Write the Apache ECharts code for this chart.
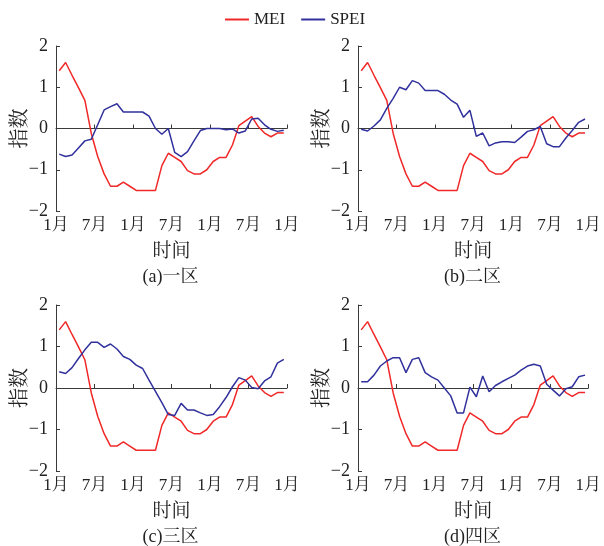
<!DOCTYPE html>
<html>
<head>
<meta charset="utf-8">
<script src="https://cdn.jsdelivr.net/npm/echarts@6/dist/echarts.min.js"></script>
<style>html,body{margin:0;padding:0;background:#fff;}#c{width:604px;height:546px;}</style>
</head>
<body>
<div id="c"></div>
<script>
// ---- data ----
const tickLabels = ['1月', '7月', '1月', '7月', '1月', '7月', '1月'];
const panelTitles = ['(a)一区', '(b)二区', '(c)三区', '(d)四区'];
const seriesNames = ['MEI', 'SPEI'];
const MEI = [1.4, 1.6, 1.29, 0.99, 0.68, -0.12, -0.68, -1.1, -1.4, -1.4, -1.3, -1.4,
  -1.5, -1.5, -1.5, -1.5, -0.9, -0.6, -0.7, -0.8, -1.02, -1.1, -1.1, -1.0,
  -0.8, -0.7, -0.7, -0.4, 0.07, 0.18, 0.29, 0.05, -0.11, -0.2, -0.11, -0.11];
const SPEI_1 = [-0.62, -0.68, -0.64, -0.47, -0.3, -0.26, 0.09, 0.45, 0.53, 0.6, 0.4, 0.4,
  0.4, 0.4, 0.3, 0.0, -0.14, 0.0, -0.58, -0.68, -0.56, -0.3, -0.05, 0.0,
  0.0, 0.0, -0.03, -0.01, -0.11, -0.06, 0.23, 0.25, 0.09, -0.02, -0.07, -0.04];
const SPEI_2 = [-0.02, -0.06, 0.06, 0.21, 0.49, 0.73, 1.0, 0.94, 1.16, 1.1, 0.92, 0.92,
  0.92, 0.83, 0.69, 0.59, 0.27, 0.44, -0.19, -0.11, -0.42, -0.35, -0.32, -0.32,
  -0.34, -0.21, -0.07, -0.03, 0.05, -0.37, -0.44, -0.44, -0.23, -0.05, 0.15, 0.23];
const SPEI_3 = [0.39, 0.35, 0.49, 0.71, 0.92, 1.1, 1.1, 0.98, 1.06, 0.94, 0.76, 0.69,
  0.55, 0.47, 0.19, -0.08, -0.35, -0.64, -0.66, -0.37, -0.53, -0.53, -0.6, -0.66,
  -0.64, -0.45, -0.23, 0.03, 0.25, 0.19, 0.01, -0.02, 0.17, 0.27, 0.6, 0.69];
const SPEI_4 = [0.15, 0.15, 0.31, 0.53, 0.65, 0.73, 0.73, 0.37, 0.69, 0.73, 0.37, 0.27,
  0.19, 0.0, -0.19, -0.6, -0.6, 0.02, -0.21, 0.29, -0.09, 0.06, 0.15, 0.23,
  0.31, 0.43, 0.53, 0.57, 0.53, 0.09, -0.05, -0.19, -0.02, 0.03, 0.27, 0.31];
const SPEI = [SPEI_1, SPEI_2, SPEI_3, SPEI_4];

// ---- layout / style ----
const FONT = "'Liberation Serif', 'Noto Serif CJK SC', 'Noto Sans CJK SC', serif";
const RED = '#f02828';
const BLUE = '#30319c';
const AXIS = '#3a3a3a';
const grids = [
  {left: 56, top: 46, width: 231, height: 165},
  {left: 358, top: 46, width: 231, height: 165},
  {left: 56, top: 305, width: 231, height: 166},
  {left: 358, top: 305, width: 231, height: 166}
];

const toPts = arr => arr.map((v, i) => [i + 0.5, v]);

const xAxes = [], yAxes = [], series = [], titles = [];
grids.forEach((g, k) => {
  xAxes.push({
    gridIndex: k, type: 'value', min: 0, max: 36, interval: 6,
    name: '时间', nameLocation: 'middle', nameGap: 32,
    nameTextStyle: {fontFamily: FONT, fontSize: 19, color: '#222'},
    axisLine: {lineStyle: {color: AXIS, width: 1}},
    axisTick: {inside: true, length: 4, lineStyle: {color: AXIS}},
    axisLabel: {fontFamily: FONT, fontSize: 17, color: '#222', margin: 6,
      formatter: v => tickLabels[Math.round(v / 6)]},
    splitLine: {show: false}
  });
  yAxes.push({
    gridIndex: k, type: 'value', min: -2, max: 2, interval: 1,
    name: '指数', nameLocation: 'middle', nameGap: 25, nameRotate: 90,
    nameMoveOverlap: false,
    nameTextStyle: {fontFamily: FONT, fontSize: 20, color: '#222'},
    axisLine: {show: true, lineStyle: {color: AXIS, width: 1}},
    axisTick: {show: true, inside: true, length: 4, lineStyle: {color: AXIS}},
    axisLabel: {fontFamily: FONT, fontSize: 18, color: '#222', margin: 8,
      formatter: v => (v < 0 ? '\u2212' + Math.abs(v) : String(v))},
    splitLine: {show: false}
  });
  series.push({
    name: seriesNames[0], type: 'line', xAxisIndex: k, yAxisIndex: k,
    data: toPts(MEI), symbol: 'none', lineStyle: {color: RED, width: 1.5},
    itemStyle: {color: RED}, animation: false
  });
  series.push({
    name: seriesNames[1], type: 'line', xAxisIndex: k, yAxisIndex: k,
    data: toPts(SPEI[k]), symbol: 'none', lineStyle: {color: BLUE, width: 1.5},
    itemStyle: {color: BLUE}, animation: false
  });
  titles.push({
    text: panelTitles[k], left: g.left + g.width / 2 - 6, top: g.top + g.height + 52,
    textAlign: 'center',
    textStyle: {fontFamily: FONT, fontSize: 18, fontWeight: 'normal', color: '#222'}
  });
});

const chart = echarts.init(document.getElementById('c'), null, {renderer: 'canvas'});
chart.setOption({
  backgroundColor: '#fff',
  animation: false,
  title: titles,
  legend: {
    data: seriesNames, top: 6, left: 220, itemWidth: 24, itemHeight: 2, itemGap: 16,
    icon: 'rect',
    textStyle: {fontFamily: FONT, fontSize: 17, color: '#222'}
  },
  grid: grids,
  xAxis: xAxes,
  yAxis: yAxes,
  series: series
});
</script>
</body>
</html>
